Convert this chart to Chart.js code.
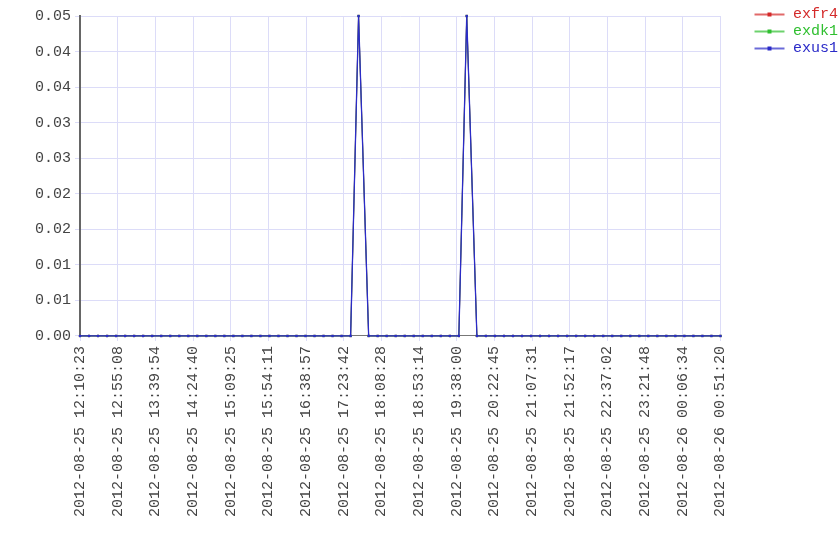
<html>
<head>
    <title>exfr4 / exdk1 / exus1</title>
    <script src="https://cdn.jsdelivr.net/npm/chart.js@4.4.0/dist/chart.umd.min.js"></script>
    <style>
        body { margin: 0; background: #fff; }
        #wrap { width: 840px; height: 560px; }
    </style>
</head>
<body>

<div id="wrap">
    <canvas id="myChart" width="840" height="560"></canvas>
</div>

<script type="text/javascript">
// sample times (day rolls over after midnight)
var startDate = "2012-08-25"
var pointTimes = [
    "12:10:23", "12:21:06", "12:31:49", "12:42:32", "12:53:15", "13:03:58", "13:14:41", "13:25:24",
    "13:36:07", "13:46:50", "13:57:33", "14:08:16", "14:18:59", "14:29:42", "14:40:25", "14:51:08",
    "15:01:51", "15:12:34", "15:23:17", "15:34:00", "15:44:43", "15:55:26", "16:06:09", "16:16:52",
    "16:27:35", "16:38:18", "16:49:01", "16:59:44", "17:10:27", "17:21:10", "17:31:53", "17:41:20",
    "17:53:19", "18:04:02", "18:14:45", "18:25:28", "18:36:11", "18:46:54", "18:57:37", "19:08:20",
    "19:19:03", "19:29:46", "19:40:29", "19:49:50", "20:01:55", "20:12:38", "20:23:21", "20:34:04",
    "20:44:47", "20:55:30", "21:06:13", "21:16:56", "21:27:39", "21:38:22", "21:49:05", "21:59:48",
    "22:10:31", "22:21:14", "22:31:57", "22:42:40", "22:53:23", "23:04:06", "23:14:49", "23:25:32",
    "23:36:15", "23:46:58", "23:57:41", "00:08:24", "00:19:07", "00:29:50", "00:40:33", "00:51:20"
]

var exfr4 = [
    0, 0, 0, 0, 0, 0, 0, 0, 0, 0, 0, 0, 0, 0, 0, 0,
    0, 0, 0, 0, 0, 0, 0, 0, 0, 0, 0, 0, 0, 0, 0, 0.05,
    0, 0, 0, 0, 0, 0, 0, 0, 0, 0, 0, 0.05, 0, 0, 0, 0,
    0, 0, 0, 0, 0, 0, 0, 0, 0, 0, 0, 0, 0, 0, 0, 0,
    0, 0, 0, 0, 0, 0, 0, 0
]
var exdk1 = [
    0, 0, 0, 0, 0, 0, 0, 0, 0, 0, 0, 0, 0, 0, 0, 0,
    0, 0, 0, 0, 0, 0, 0, 0, 0, 0, 0, 0, 0, 0, 0, 0.05,
    0, 0, 0, 0, 0, 0, 0, 0, 0, 0, 0, 0.05, 0, 0, 0, 0,
    0, 0, 0, 0, 0, 0, 0, 0, 0, 0, 0, 0, 0, 0, 0, 0,
    0, 0, 0, 0, 0, 0, 0, 0
]
var exus1 = [
    0, 0, 0, 0, 0, 0, 0, 0, 0, 0, 0, 0, 0, 0, 0, 0,
    0, 0, 0, 0, 0, 0, 0, 0, 0, 0, 0, 0, 0, 0, 0, 0.05,
    0, 0, 0, 0, 0, 0, 0, 0, 0, 0, 0, 0.05, 0, 0, 0, 0,
    0, 0, 0, 0, 0, 0, 0, 0, 0, 0, 0, 0, 0, 0, 0, 0,
    0, 0, 0, 0, 0, 0, 0, 0
]

var xTickLabels = [
    "2012-08-25 12:10:23", "2012-08-25 12:55:08", "2012-08-25 13:39:54", "2012-08-25 14:24:40",
    "2012-08-25 15:09:25", "2012-08-25 15:54:11", "2012-08-25 16:38:57", "2012-08-25 17:23:42",
    "2012-08-25 18:08:28", "2012-08-25 18:53:14", "2012-08-25 19:38:00", "2012-08-25 20:22:45",
    "2012-08-25 21:07:31", "2012-08-25 21:52:17", "2012-08-25 22:37:02", "2012-08-25 23:21:48",
    "2012-08-26 00:06:34", "2012-08-26 00:51:20"
]
var yTickLabels = ["0.00", "0.01", "0.01", "0.02", "0.02", "0.03", "0.03", "0.04", "0.04", "0.05"]
var yMax = 0.05

function toSec(s) {
    return Date.parse(s.replace(" ", "T") + "Z") / 1000
}

// turn the HH:MM:SS list into seconds
var pointSecs = []
var day = 0, lastH = -1
for (var i in pointTimes) {
    var p = pointTimes[i].split(":")
    var h = parseInt(p[0], 10)
    if (h < lastH) day++
    lastH = h
    pointSecs.push(toSec(startDate + " 00:00:00") + day * 86400 + h * 3600 + parseInt(p[1], 10) * 60 + parseInt(p[2], 10))
}

function xy(vals) {
    var out = []
    for (var i in vals) out.push({x: pointSecs[i], y: vals[i]})
    return out
}

// legend sample: empty margin on the left, then a short line with a dot
var markW = 63, markGap = 32
function legendMark(color) {
    var c = document.createElement("canvas")
    c.width = markW
    c.height = 8
    var g = c.getContext("2d")
    g.globalAlpha = 0.7
    g.fillStyle = color
    g.fillRect(markGap, 3, 30, 2)
    g.globalAlpha = 1
    g.fillRect(markGap + 13, 2, 4, 4)
    return c
}

var colors = {exfr4: "#d42a2a", exdk1: "#2fbf2f", exus1: "#2b2bc8"}
var monoFont = {family: "'Liberation Mono', monospace", size: 15}

function ds(name, vals, order, width) {
    return {
        label: name,
        data: xy(vals),
        borderColor: colors[name],
        backgroundColor: colors[name],
        borderWidth: width,
        pointStyle: "rect",
        pointRadius: 1.6,
        pointBorderWidth: 0,
        tension: 0,
        clip: false,
        order: order
    }
}

var ctx = document.getElementById("myChart")
var chart = new Chart(ctx, {
    type: "line",
    data: {
        datasets: [ds("exfr4", exfr4, 2, 1), ds("exdk1", exdk1, 1, 1), ds("exus1", exus1, 0, 1.3)]
    },
    options: {
        responsive: false,
        animation: false,
        font: monoFont,
        layout: {padding: {top: 5, right: -8, left: 31, bottom: 38}},
        plugins: {
            tooltip: {enabled: false},
            legend: {
                position: "right",
                align: "start",
                labels: {
                    usePointStyle: true,
                    pointStyleWidth: markW,
                    padding: 2,
                    font: monoFont,
                    generateLabels: function(chart) {
                        var items = Chart.defaults.plugins.legend.labels.generateLabels(chart)
                        for (var i in items) {
                            var name = items[i].text
                            items[i].pointStyle = legendMark(colors[name])
                            items[i].fontColor = colors[name]
                        }
                        return items
                    },
                    sort: function(a, b) { return a.datasetIndex - b.datasetIndex }
                }
            }
        },
        scales: {
            x: {
                type: "linear",
                min: toSec(xTickLabels[0]),
                max: toSec(xTickLabels[xTickLabels.length - 1]),
                afterBuildTicks: function(scale) {
                    scale.ticks = xTickLabels.map(function(t) { return {value: toSec(t)} })
                },
                grid: {color: "#dcdcf8", tickLength: 5},
                border: {color: "#777", width: 1},
                ticks: {
                    autoSkip: false,
                    minRotation: 90,
                    maxRotation: 90,
                    color: "#444",
                    padding: 5,
                    font: monoFont,
                    callback: function(v, i) { return xTickLabels[i] }
                }
            },
            y: {
                min: 0,
                max: yMax,
                afterBuildTicks: function(scale) {
                    scale.ticks = yTickLabels.map(function(t, i) { return {value: yMax * i / (yTickLabels.length - 1)} })
                },
                grid: {color: "#dcdcf8", tickLength: 5},
                border: {color: "#666", width: 2},
                ticks: {
                    color: "#444",
                    padding: 4,
                    font: {family: "'Liberation Mono', monospace", size: 15, lineHeight: 1.6},
                    callback: function(v, i) { return yTickLabels[i] }
                }
            }
        }
    }
})
</script>

</body>
</html>
